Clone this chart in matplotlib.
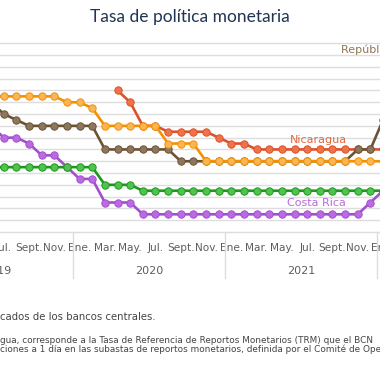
import numpy as np
import matplotlib
matplotlib.use("Agg")
import matplotlib.pyplot as plt
from matplotlib.transforms import blended_transform_factory

plt.rcParams['font.family'] = ['DejaVu Sans']

# meses: indice 5 = jun. 2019 ... 36 = ene. 2022
meses = np.arange(5, 37)
honduras = [5.75] * 6 + [5.5] * 2 + [5.25] + [4.5] * 5 + [3.75] * 3 + [3.0] * 15
rep_dom = [5.5, 5.0, 4.75] + [4.5] * 6 + [3.5] * 6 + [3.0] * 14 + [3.5, 3.5, 4.75]
costa_rica = [4.5, 4.0, 4.0, 3.75, 3.25, 3.25, 2.75, 2.25, 2.25] + [1.25] * 3 + [0.75] * 18 + [1.25, 1.75]
guatemala = [2.75] * 9 + [2.0] * 3 + [1.75] * 20
nicaragua = [np.nan] * 10 + [6.0, 5.5, 4.5, 4.5] + [4.25] * 4 + [4.0, 3.75, 3.75] + [3.5] * 11

etiquetas_mes = {0: 'Ene.', 2: 'Mar.', 4: 'May.', 6: 'Jul.', 8: 'Sept.', 10: 'Nov.'}
anios = ['2019', '2020', '2021']

x0, x1 = 5.70, 35.76

fig = plt.figure(figsize=(3.8, 3.8), dpi=100)
ax = fig.add_axes([0, 148 / 380, 1, 188.7 / 380])

series = [
    (costa_rica, '#A34FCC', '#BB6BE2'),
    (guatemala, '#1C991C', '#4FC24F'),
    (nicaragua, '#D9532B', '#F07248'),
    (rep_dom, '#6B5436', '#8E765C'),
    (honduras, '#F39200', '#FBB555'),
]
for valores, c_linea, c_punto in series:
    ax.plot(meses, valores, color=c_linea, lw=1.9, marker='o', ms=5.3,
            markerfacecolor=c_punto, markeredgecolor=c_linea, markeredgewidth=0.7)

ax.set_yticks(np.arange(0, 8.01, 0.5))
ax.yaxis.grid(True, color='#DDDDDD', lw=1)
ax.set_axisbelow(True)
for gl in ax.get_ygridlines():
    gl.set_clip_on(False)
for s in ax.spines.values():
    s.set_visible(False)
ax.tick_params(axis='y', left=False, labelleft=False)

ticks = [m for m in range(0, 37) if m % 12 in etiquetas_mes]
ax.set_xticks(ticks)
ax.set_xticklabels([etiquetas_mes[m % 12] for m in ticks], color='#5E5E5E', fontsize=7.6)
ax.tick_params(axis='x', length=0, pad=8)
ax.set_xlim(x0, x1)
ax.set_ylim(0, 8.0)

tr = blended_transform_factory(ax.transData, ax.transAxes)
# la etiqueta de ene. 2022 queda fuera del rango, se dibuja aparte
ax.text(36, -0.059, etiquetas_mes[0], transform=tr, ha='center', va='top',
        color='#5E5E5E', fontsize=7.6, clip_on=False)
for k, anio in enumerate(anios):
    ax.text(5.5 + 12 * k, -0.205, anio, transform=tr, ha='center', va='center',
            color='#5E5E5E', fontsize=8)
for k in range(4):
    ax.plot([11.5 + 12 * k] * 2, [0, -0.245], transform=tr, color='#DDDDDD',
            lw=1, clip_on=False, scalex=False, scaley=False)


def px_a_mes(px):
    return x0 + px / 380 * (x1 - x0)


ax.text(px_a_mes(318.5), 3.88, 'Nicaragua', color='#E8673F', fontsize=8,
        ha='center', va='center')
ax.text(px_a_mes(316.5), 1.25, 'Costa Rica', color='#B86BD9', fontsize=8,
        ha='center', va='center')
ax.text(px_a_mes(340.7), 7.71, 'República Dominicana', color='#8F7556',
        fontsize=8, ha='left', va='center')

fig.text(0.5, 1 - 17 / 380, 'Tasa de política monetaria', color='#1F3552',
         fontsize=12.5, ha='center', va='center', family=['Lato', 'DejaVu Sans'])

fig.text(0, 1 - 317 / 380, 'cados de los bancos centrales.', color='#444444',
         fontsize=7.3, ha='left', va='center')
fig.text(0, 1 - 340.7 / 380,
         'gua, corresponde a la Tasa de Referencia de Reportos Monetarios (TRM) que el BCN',
         color='#444444', fontsize=6.4, ha='left', va='center')
fig.text(0, 1 - 349.5 / 380,
         'ciones a 1 día en las subastas de reportos monetarios, definida por el Comité de Operaciones',
         color='#444444', fontsize=6.4, ha='left', va='center')

fig.savefig('out.png', dpi=100)
